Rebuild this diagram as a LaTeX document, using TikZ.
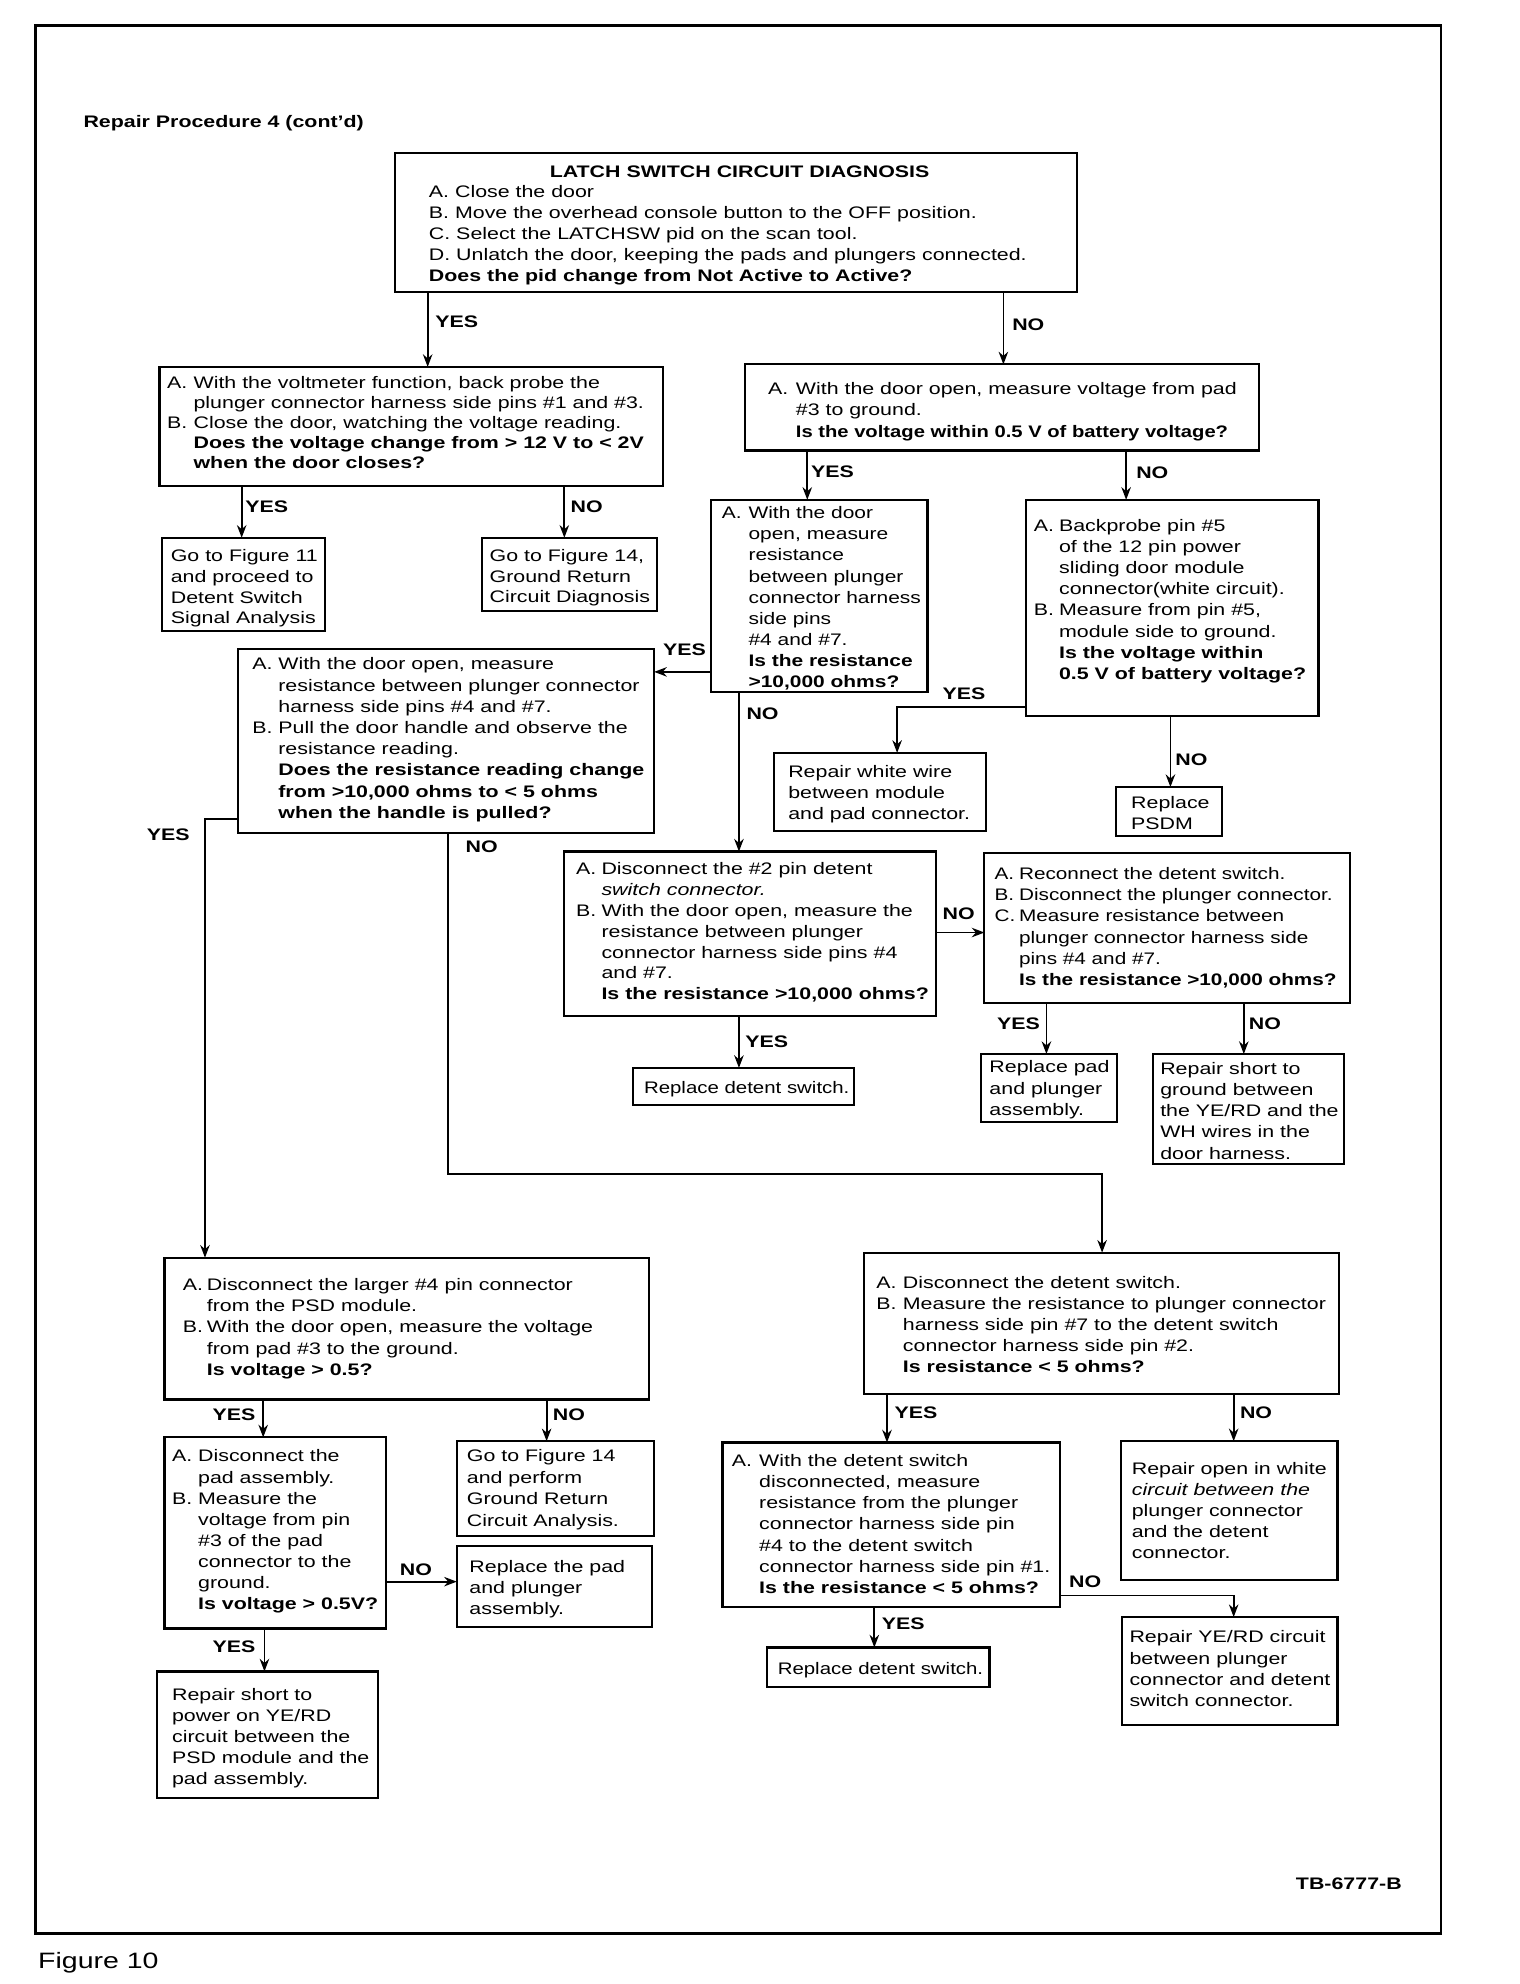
\documentclass[tikz,border=0pt]{standalone}
\usepackage{fontspec}
\setmainfont{Liberation Sans}[FakeStretch=1.28]
\usepackage{graphicx}
\usetikzlibrary{arrows.meta}
\newcommand\boxtext[2][16.7]{{\fontsize{13.2}{#1}\selectfont\begin{tabular}[t]{@{}l@{}}#2\end{tabular}}}
\newcommand\hlab[2]{\makebox[#1pt][l]{#2}}
\newcommand\hind[1]{\hspace*{#1pt}}
\begin{document}
\begin{tikzpicture}[x=1pt,y=-1pt,
  box/.style={draw, line width=1.7pt, inner sep=0pt, outer sep=0pt, anchor=north west},
  txt/.style={anchor=base west, inner sep=0pt, outer sep=0pt},
  lbl/.style={anchor=base west, inner sep=0pt, outer sep=0pt, font=\fontsize{13.2}{16}\selectfont\bfseries},
  arr/.style={line width=1.4pt, -{Stealth[length=10pt,width=7.5pt]}},
]
\useasboundingbox (0,0) rectangle (1201,1568);
\draw[line width=2pt] (28,20) rectangle (1139,1528);

% ---------- boxes ----------
\node[box, minimum width=539pt, minimum height=110pt] (b1) at (312,121) {};
\node[box, minimum width=398pt, minimum height=94pt] (b2) at (126,290) {};
\node[box, minimum width=406pt, minimum height=68pt] (b3) at (589,288) {};
\node[box, minimum width=171pt, minimum height=152pt] (b4) at (562,395) {};
\node[box, minimum width=231pt, minimum height=171pt] (b5) at (811,395) {};
\node[box, minimum width=129pt, minimum height=74pt] (g11) at (128,425) {};
\node[box, minimum width=138pt, minimum height=58pt] (g14) at (381,425) {};
\node[box, minimum width=329pt, minimum height=145pt] (b6) at (188,513) {};
\node[box, minimum width=167pt, minimum height=62pt] (b7) at (612,595) {};
\node[box, minimum width=84pt, minimum height=39pt] (b8) at (882,622) {};
\node[box, minimum width=294pt, minimum height=130pt] (b9) at (446,673) {};
\node[box, minimum width=289pt, minimum height=119pt] (b12) at (778,674) {};
\node[box, minimum width=175pt, minimum height=29pt] (b13) at (500,844) {};
\node[box, minimum width=108pt, minimum height=54pt] (b14) at (775,833) {};
\node[box, minimum width=151pt, minimum height=87pt] (b15) at (911,833) {};
\node[box, minimum width=383pt, minimum height=112pt] (b10) at (130,994) {};
\node[box, minimum width=375pt, minimum height=112pt] (b11) at (683,990) {};
\node[box, minimum width=175pt, minimum height=151pt] (b16) at (130,1136) {};
\node[box, minimum width=156pt, minimum height=75pt] (b17) at (361,1139) {};
\node[box, minimum width=154pt, minimum height=64pt] (b18) at (361,1222) {};
\node[box, minimum width=175pt, minimum height=100pt] (b19) at (124,1321) {};
\node[box, minimum width=267pt, minimum height=130pt] (b20) at (571,1140) {};
\node[box, minimum width=171pt, minimum height=110pt] (b21) at (886,1139) {};
\node[box, minimum width=170pt, minimum height=85pt] (b22) at (887,1278) {};
\node[box, minimum width=176pt, minimum height=31pt] (b23) at (606,1302) {};

% ---------- texts ----------
\node[lbl] (hdr) at (66,101) {Repair Procedure 4 (cont'd)};
\node[anchor=base, inner sep=0pt, font=\fontsize{13.2}{16}\selectfont\bfseries] (t1h) at (584.5,140) {LATCH SWITCH CIRCUIT DIAGNOSIS};
\node[txt] (t1) at (339,156) {\boxtext[16.65]{A. Close the door\\
B. Move the overhead console button to the OFF position.\\
C. Select the LATCHSW pid on the scan tool.\\
D. Unlatch the door, keeping the pads and plungers connected.\\
\textbf{Does the pid change from Not Active to Active?}}};

\node[txt] (t2) at (132,307) {\boxtext[15.8]{\hlab{21}{A.}With the voltmeter function, back probe the\\
\hind{21}plunger connector harness side pins \#1 and \#3.\\
\hlab{21}{B.}Close the door, watching the voltage reading.\\
\hind{21}\textbf{Does the voltage change from > 12 V to < 2V}\\
\hind{21}\textbf{when the door closes?}}};

\node[txt] (t3) at (607,312) {\boxtext[16.7]{\hlab{22}{A.}With the door open, measure voltage from pad\\
\hind{22}\#3 to ground.\\
\hind{22}\scalebox{0.945}[1]{\textbf{Is the voltage within 0.5 V of battery voltage?}}}};

\node[txt] (tg11) at (135,444) {\boxtext[16.3]{Go to Figure 11\\ and proceed to\\ Detent Switch\\ Signal Analysis}};
\node[txt] (tg14) at (387,444) {\boxtext[16]{Go to Figure 14,\\ Ground Return\\ Circuit Diagnosis}};

\node[txt] (t4) at (570.5,410) {\scalebox{0.98}[1]{\boxtext[16.66]{\hlab{21.5}{A.}With the door\\
\hind{21.5}open, measure\\
\hind{21.5}resistance\\
\hind{21.5}between plunger\\
\hind{21.5}connector harness\\
\hind{21.5}side pins\\
\hind{21.5}\#4 and \#7.\\
\hind{21.5}\textbf{Is the resistance}\\
\hind{21.5}\textbf{>10,000 ohms?}}}};

\node[txt] (t5) at (817,420) {\boxtext[16.7]{\hlab{20}{A.}Backprobe pin \#5\\
\hind{20}of the 12 pin power\\
\hind{20}sliding door module\\
\hind{20}connector(white circuit).\\
\hlab{20}{B.}Measure from pin \#5,\\
\hind{20}module side to ground.\\
\hind{20}\textbf{Is the voltage within}\\
\hind{20}\textbf{0.5 V of battery voltage?}}};

\node[txt] (t6) at (199.5,529.5) {\boxtext[16.74]{\hlab{20.5}{A.}With the door open, measure\\
\hind{20.5}resistance between plunger connector\\
\hind{20.5}harness side pins \#4 and \#7.\\
\hlab{20.5}{B.}Pull the door handle and observe the\\
\hind{20.5}resistance reading.\\
\hind{20.5}\textbf{Does the resistance reading change}\\
\hind{20.5}\textbf{from >10,000 ohms to < 5 ohms}\\
\hind{20.5}\textbf{when the handle is pulled?}}};

\node[txt] (t7) at (623,614.5) {\boxtext[16.5]{Repair white wire\\ between module\\ and pad connector.}};
\node[txt] (t8) at (894,639) {\boxtext[16.3]{Replace\\ PSDM}};

\node[txt] (t9) at (455.4,691.4) {\boxtext[16.45]{\hlab{20}{A.}Disconnect the \#2 pin detent\\
\hind{20}\textit{switch connector.}\\
\hlab{20}{B.}With the door open, measure the\\
\hind{20}resistance between plunger\\
\hind{20}connector harness side pins \#4\\
\hind{20}and \#7.\\
\hind{20}\textbf{Is the resistance >10,000 ohms?}}};

\node[txt] (t12) at (786,695) {\scalebox{0.97}[1]{\boxtext[16.8]{\hlab{20}{A.}Reconnect the detent switch.\\
\hlab{20}{B.}Disconnect the plunger connector.\\
\hlab{20}{C.}Measure resistance between\\
\hind{20}plunger connector harness side\\
\hind{20}pins \#4 and \#7.\\
\hind{20}\textbf{Is the resistance >10,000 ohms?}}}};

\node[txt] (t13) at (509,864) {\boxtext{\scalebox{0.955}[1]{Replace detent switch.}}};
\node[txt] (t14) at (782,848) {\boxtext[16.9]{Replace pad\\ and plunger\\ assembly.}};
\node[txt] (t15) at (917,849.4) {\boxtext[16.65]{Repair short to\\ ground between\\ the YE/RD and the\\ WH wires in the\\ door harness.}};

\node[txt] (t10) at (144.5,1020) {\boxtext[16.7]{\hlab{19}{A.}Disconnect the larger \#4 pin connector\\
\hind{19}from the PSD module.\\
\hlab{19}{B.}With the door open, measure the voltage\\
\hind{19}from pad \#3 to the ground.\\
\hind{19}\textbf{Is voltage > 0.5?}}};

\node[txt] (t11) at (692.6,1018) {\boxtext[16.75]{\hlab{21}{A.}Disconnect the detent switch.\\
\hlab{21}{B.}Measure the resistance to plunger connector\\
\hind{21}harness side pin \#7 to the detent switch\\
\hind{21}connector harness side pin \#2.\\
\hind{21}\textbf{Is resistance < 5 ohms?}}};

\node[txt] (t16) at (136,1155.4) {\boxtext[16.7]{\hlab{20.6}{A.}Disconnect the\\
\hind{20.6}pad assembly.\\
\hlab{20.6}{B.}Measure the\\
\hind{20.6}voltage from pin\\
\hind{20.6}\#3 of the pad\\
\hind{20.6}connector to the\\
\hind{20.6}ground.\\
\hind{20.6}\textbf{Is voltage > 0.5V?}}};

\node[txt] (t17) at (369,1155.4) {\boxtext[17]{Go to Figure 14\\ and perform\\ Ground Return\\ Circuit Analysis.}};
\node[txt] (t18) at (371,1243) {\boxtext[16.5]{Replace the pad\\ and plunger\\ assembly.}};
\node[txt] (t19) at (136,1344) {\boxtext[16.6]{Repair short to\\ power on YE/RD\\ circuit between the\\ PSD module and the\\ pad assembly.}};

\node[txt] (t20) at (578.4,1159) {\boxtext[16.7]{\hlab{21.6}{A.}With the detent switch\\
\hind{21.6}disconnected, measure\\
\hind{21.6}resistance from the plunger\\
\hind{21.6}connector harness side pin\\
\hind{21.6}\#4 to the detent switch\\
\hind{21.6}connector harness side pin \#1.\\
\hind{21.6}\textbf{Is the resistance < 5 ohms?}}};

\node[txt] (t21) at (894.5,1165.5) {\boxtext[16.6]{Repair open in white\\ \textit{circuit between the}\\ plunger connector\\ and the detent\\ connector.}};
\node[txt] (t22) at (892.7,1298.4) {\boxtext[16.7]{Repair YE/RD circuit\\ between plunger\\ connector and detent\\ switch connector.}};
\node[txt] (t23) at (614.7,1323.5) {\boxtext{\scalebox{0.955}[1]{Replace detent switch.}}};

\node[anchor=base east, inner sep=0pt, font=\fontsize{13.2}{16}\selectfont\bfseries] (tb) at (1108,1493) {TB-6777-B};
\node[anchor=base west, inner sep=0pt, font=\fontsize{17.6}{20}\selectfont] (fig) at (30,1556) {Figure 10};

% ---------- connectors ----------
\coordinate (kno) at (871,928);
\draw[arr] ([xshift=26pt]b1.south west) -- ([xshift=212pt]b2.north west);
\draw[arr] ([xshift=481pt]b1.south west) -- ([xshift=204pt]b3.north west);
\draw[arr] ([xshift=65pt]b2.south west) -- ([xshift=63pt]g11.north west);
\draw[arr] ([xshift=320pt]b2.south west) -- ([xshift=65pt]g14.north west);
\draw[arr] ([xshift=49pt]b3.south west) -- ([xshift=76pt]b4.north west);
\draw[arr] ([xshift=301pt]b3.south west) -- ([xshift=79pt]b5.north west);
\draw[arr] ([yshift=-136pt]b4.north west) -- ([yshift=-18pt]b6.north east);
\draw[arr] ([yshift=-164pt]b5.north west) -| ([xshift=97pt]b7.north west);
\draw[arr] ([xshift=114pt]b5.south west) -- ([xshift=43pt]b8.north west);
\draw[arr] ([xshift=22pt]b4.south west) -- ([xshift=138pt]b9.north west);
\draw[arr] ([yshift=-134pt]b6.north west) -| ([xshift=32pt]b10.north west);
\draw[arr] ([xshift=166pt]b6.south west) |- (kno) -- ([xshift=188pt]b11.north west);
\draw[arr] ([yshift=-64pt]b9.north east) -- ([yshift=-63pt]b12.north west);
\draw[arr] ([xshift=138pt]b9.south west) -- ([xshift=84pt]b13.north west);
\draw[arr] ([xshift=49pt]b12.south west) -- ([xshift=52pt]b14.north west);
\draw[arr] ([xshift=205pt]b12.south west) -- ([xshift=72pt]b15.north west);
\draw[arr] ([xshift=78pt]b10.south west) -- ([xshift=78pt]b16.north west);
\draw[arr] ([xshift=302pt]b10.south west) -- ([xshift=71pt]b17.north west);
\draw[arr] ([yshift=-114pt]b16.north east) -- ([yshift=-28pt]b18.north west);
\draw[arr] ([xshift=79pt]b16.south west) -- ([xshift=85pt]b19.north west);
\draw[arr] ([xshift=18pt]b11.south west) -- ([xshift=130pt]b20.north west);
\draw[arr] ([xshift=292pt]b11.south west) -- ([xshift=89pt]b21.north west);
\draw[arr] ([yshift=-121pt]b20.north east) -| ([xshift=88pt]b22.north west);
\draw[arr] ([xshift=120pt]b20.south west) -- ([xshift=85pt]b23.north west);

% ---------- labels ----------
\node[lbl] (l1) at (344,259) {YES};
\node[lbl] (l2) at (800,261) {NO};
\node[lbl] (l3) at (194,405) {YES};
\node[lbl] (l4) at (451,405) {NO};
\node[lbl] (l5) at (641,377) {YES};
\node[lbl] (l6) at (898,378) {NO};
\node[lbl] (l7) at (524,518) {YES};
\node[lbl] (l8) at (745,553) {YES};
\node[lbl] (l9) at (929,605) {NO};
\node[lbl] (l10) at (590,569) {NO};
\node[lbl] (l11) at (116,664) {YES};
\node[lbl] (l12) at (368,674) {NO};
\node[lbl] (l13) at (745,727) {NO};
\node[lbl] (l14) at (589,828) {YES};
\node[lbl] (l15) at (788,814) {YES};
\node[lbl] (l16) at (987,814) {NO};
\node[lbl] (l17) at (168,1123) {YES};
\node[lbl] (l18) at (437,1123) {NO};
\node[lbl] (l19) at (316,1245) {NO};
\node[lbl] (l20) at (168,1306) {YES};
\node[lbl] (l21) at (707,1121) {YES};
\node[lbl] (l22) at (980,1121) {NO};
\node[lbl] (l23) at (845,1255) {NO};
\node[lbl] (l24) at (697,1288) {YES};
\end{tikzpicture}
\end{document}
